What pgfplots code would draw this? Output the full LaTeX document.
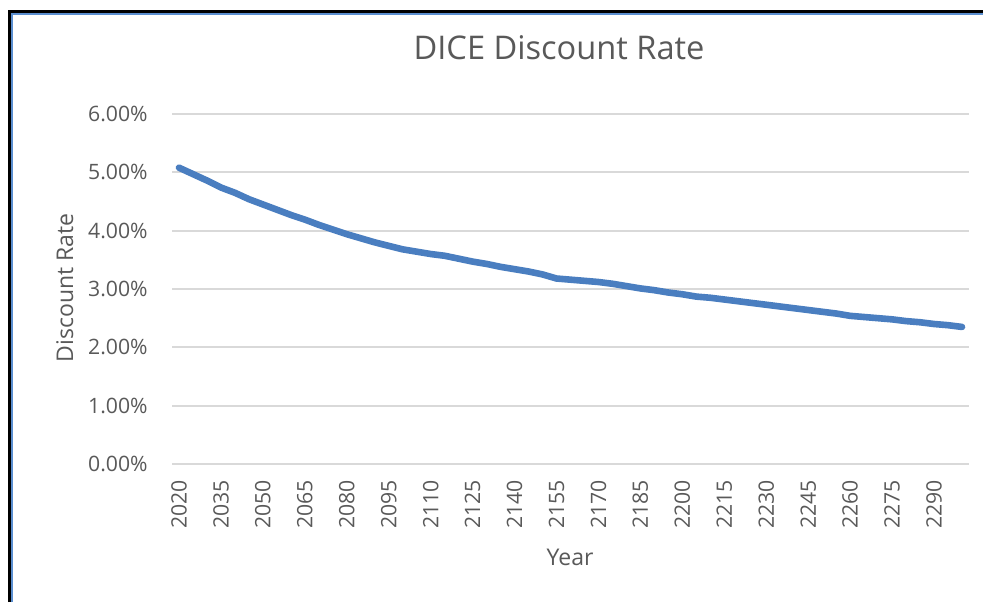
\documentclass[border=0pt]{standalone}
\usepackage{fontspec}
\setmainfont{Open Sans}
\usepackage{pgfplots}
\pgfplotsset{compat=1.18}
\usepackage{pgfplotstable}
\definecolor{txt}{HTML}{595959}
\definecolor{gridc}{HTML}{D9D9D9}
\definecolor{ser}{HTML}{4A7EC0}
\definecolor{frameblue}{HTML}{5B8FD0}
\pgfplotstableread{
year rate
2020 5.08
2025 4.97
2030 4.86
2035 4.74
2040 4.65
2045 4.54
2050 4.45
2055 4.36
2060 4.27
2065 4.19
2070 4.10
2075 4.02
2080 3.94
2085 3.87
2090 3.80
2095 3.74
2100 3.68
2105 3.64
2110 3.60
2115 3.57
2120 3.52
2125 3.47
2130 3.43
2135 3.38
2140 3.34
2145 3.30
2150 3.25
2155 3.18
2160 3.16
2165 3.14
2170 3.12
2175 3.09
2180 3.05
2185 3.01
2190 2.98
2195 2.94
2200 2.91
2205 2.87
2210 2.85
2215 2.82
2220 2.79
2225 2.76
2230 2.73
2235 2.70
2240 2.67
2245 2.64
2250 2.61
2255 2.58
2260 2.54
2265 2.52
2270 2.50
2275 2.48
2280 2.45
2285 2.43
2290 2.40
2295 2.38
2300 2.35
}\ratetable
\begin{document}
\begin{tikzpicture}
\path[use as bounding box] (0,0) rectangle (491.5pt,301pt);
\fill[white] (0,0) rectangle (491.5pt,301pt);
\begin{axis}[
  at={(86pt,69pt)}, anchor=south west,
  scale only axis, width=398.5pt, height=175pt,
  xmin=2017.5, xmax=2302.5, ymin=0, ymax=6,
  xtick={2020,2035,...,2290},
  ytick={0,1,2,3,4,5,6},
  yticklabels={0.00\%,1.00\%,2.00\%,3.00\%,4.00\%,5.00\%,6.00\%},
  /pgf/number format/1000 sep={},
  /pgf/number format/assume math mode=true,
  axis line style={draw=none},
  major tick length=0pt,
  ymajorgrids,
  grid style={color=gridc, line width=1pt},
  tick label style={font=\fontsize{10.6}{12}\selectfont, text=txt, inner sep=0pt},
  xticklabel style={rotate=90, anchor=east},
  yticklabel style={anchor=east},
  xticklabel shift=8pt,
  yticklabel shift=12pt,
  clip=false,
]
\addplot[color=ser, line width=3.3pt, line join=round, line cap=round, mark=none] table[x=year, y=rate] {\ratetable};
\end{axis}
\node[anchor=base, inner sep=0pt, text=txt, font=\fontsize{16.3}{19}\selectfont] at (279.5pt,271.5pt) {DICE Discount Rate};
\node[anchor=base, inner sep=0pt, text=txt, font=\fontsize{11.5}{14}\selectfont] at (285pt,18.5pt) {Year};
\node[anchor=base, inner sep=0pt, text=txt, rotate=90, font=\fontsize{11.5}{14}\selectfont] at (36.5pt,157pt) {Discount Rate};
\draw[black, line width=1.5pt] (4.85pt,0) -- (4.85pt,295.25pt) -- (491.5pt,295.25pt);
\draw[frameblue, line width=1pt] (6.1pt,0) -- (6.1pt,293.9pt) -- (491.5pt,293.9pt);
\end{tikzpicture}
\end{document}
